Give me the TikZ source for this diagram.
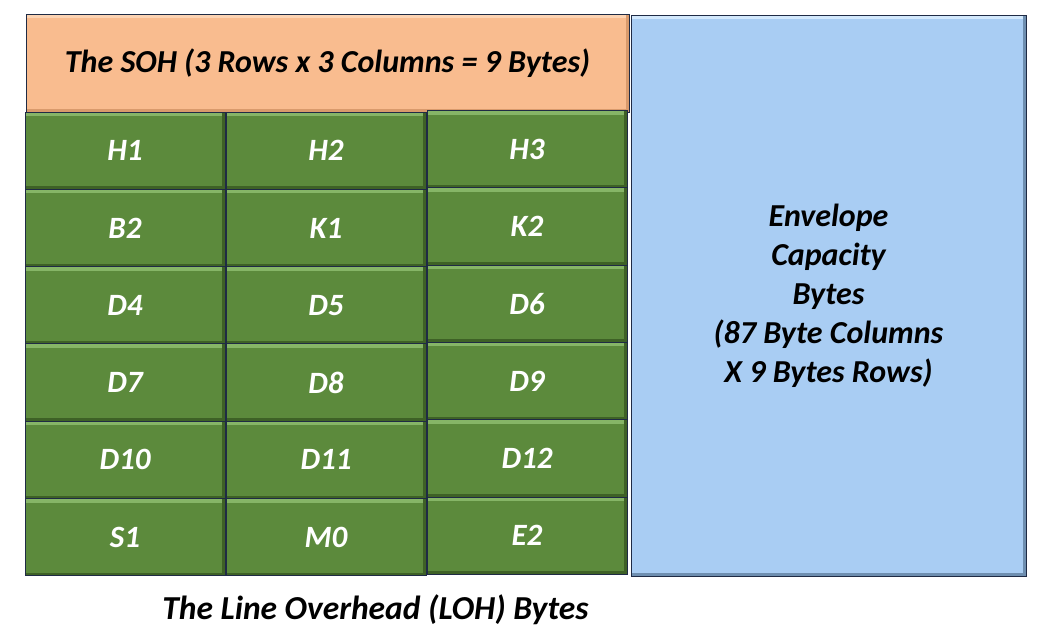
\documentclass[tikz,border=0pt]{standalone}
\usepackage{fontspec}
\setmainfont{Carlito}
\definecolor{sohfill}{HTML}{F9BC8F}
\definecolor{sohlight}{HTML}{FCD3B2}
\definecolor{sohdark}{HTML}{D99A6C}
\definecolor{cellfill}{HTML}{5C8A3C}
\definecolor{celllight}{HTML}{86B567}
\definecolor{celldark}{HTML}{3E6126}
\definecolor{envfill}{HTML}{A9CDF3}
\definecolor{envlight}{HTML}{D2E8FC}
\definecolor{envdark}{HTML}{6F8FB0}
\definecolor{edge}{HTML}{1F2B45}
\tikzset{
  bevel/.style n args={2}{path picture={
    \fill[#1] (path picture bounding box.north west) rectangle ([yshift=-4pt]path picture bounding box.north east);
    \fill[#2] ([xshift=-3.5pt]path picture bounding box.north east) rectangle (path picture bounding box.south east);
    \fill[#2] (path picture bounding box.south west) rectangle ([yshift=3pt]path picture bounding box.south east);
  }},
  lbl/.style={font=\fontsize{32}{38}\selectfont\bfseries\itshape},
  cell/.style={draw=edge, line width=0.9pt, fill=cellfill, bevel={celllight}{celldark},
    minimum width=200pt, minimum height=77.3pt, inner sep=0pt, text=white,
    font=\fontsize{31}{36}\selectfont\bfseries\itshape},
  soh/.style={draw=edge, line width=0.9pt, fill=sohfill, bevel={sohlight}{sohdark},
    minimum width=603pt, minimum height=98pt, inner sep=0pt, lbl},
  env/.style={draw=edge, line width=0.9pt, fill=envfill, bevel={envlight}{envdark},
    minimum width=395pt, minimum height=561pt, inner sep=0pt, align=center,
    font=\fontsize{32}{39}\selectfont\bfseries\itshape},
}
\begin{document}
\begin{tikzpicture}[x=1pt,y=-1pt]
\useasboundingbox (0,0) rectangle (1050,638);
\node[soh] (soh) at (327.5,63) {The SOH (3 Rows x 3 Columns = 9 Bytes)};
\node[env] (env) at (828.5,295.5) {Envelope\\Capacity\\Bytes\\(87 Byte Columns\\X 9 Bytes Rows)};
\foreach \name/\txt [count=\i from 0] in {h1/H1,h2/H2,h3/H3,b2/B2,k1/K1,k2/K2,d4/D4,d5/D5,d6/D6,d7/D7,d8/D8,d9/D9,d10/D10,d11/D11,d12/D12,s1/S1,m0/M0,e2/E2}{
  \pgfmathtruncatemacro{\r}{int(\i/3)}
  \pgfmathtruncatemacro{\c}{mod(\i,3)}
  \pgfmathsetmacro{\cx}{125+201*\c}
  \pgfmathsetmacro{\cy}{112+77.3*(\r+0.5)-(\c==2 ? 1.5 : 0)}
  \node[cell] (\name) at (\cx,\cy) {\txt};
}
\node[font=\fontsize{33.5}{40}\selectfont\bfseries\itshape] (loh) at (375.5,610) {The Line Overhead (LOH) Bytes};
\end{tikzpicture}
\end{document}
